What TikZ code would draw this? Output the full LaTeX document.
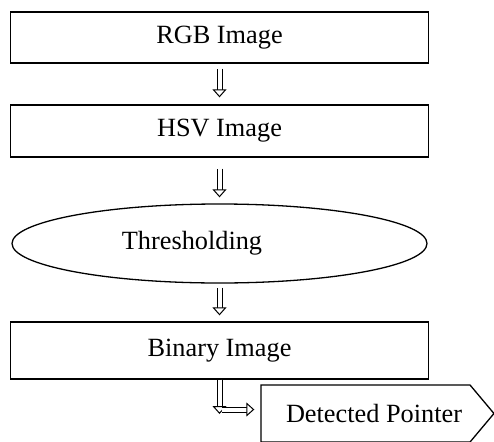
\documentclass[tikz,border=0pt]{standalone}
\usepackage{fontspec}
\setmainfont{Liberation Serif}
\usetikzlibrary{shapes.geometric,shapes.symbols,arrows.meta}
\tikzset{
	flowtext/.style={font=\fontsize{26.3}{30}\selectfont},
	flowbox/.style={draw,flowtext,line width=1.3pt,minimum width=418pt,inner sep=0pt},
	flowoval/.style={draw,ellipse,line width=1.3pt,minimum width=415pt,minimum height=79pt,inner sep=0pt},
	flowsignal/.style={draw,flowtext,signal,signal to=east,signal pointer angle=100,line width=1.3pt,minimum width=233pt,minimum height=57pt,inner sep=0pt},
	blockarrow/.style={double=white,double distance=4pt,line width=1pt,-{Triangle[open,fill=white,line width=1pt,width=14pt,length=8pt]}}
}
\begin{document}
\begin{tikzpicture}[x=1pt,y=-1pt]
	\useasboundingbox (0,0) rectangle (494,441);
	\clip (0,0) rectangle (494,441);
	\node[flowbox,minimum height=51pt] (rgb) at (219.5,37.5) {RGB Image};
	\node[flowbox,minimum height=52pt] (hsv) at (219.5,131) {HSV Image};
	\node[flowoval] (thr) at (219.5,243.5) {};
	\node[flowtext] (thrtext) at (192,243.5) {Thresholding};
	\node[flowbox,minimum height=57pt] (bin) at (219.5,350.5) {Binary Image};
	\node[flowsignal] (det) at (365.5,413.5) {\hspace*{17pt}Detected Pointer};
	\coordinate (turn) at (219.5,414);
	\coordinate (side) at (222,409.5);
	\draw[blockarrow,shorten <=5pt,shorten >=7pt] (rgb) -- (hsv);
	\draw[blockarrow,shorten <=11pt,shorten >=6pt] (hsv) -- (thr);
	\draw[blockarrow,shorten <=4pt,shorten >=6pt] (thr) -- (bin);
	\draw[blockarrow] (bin.south) -- (turn);
	\draw[blockarrow,shorten >=6pt] (side) -- (det.west |- side);
\end{tikzpicture}
\end{document}
